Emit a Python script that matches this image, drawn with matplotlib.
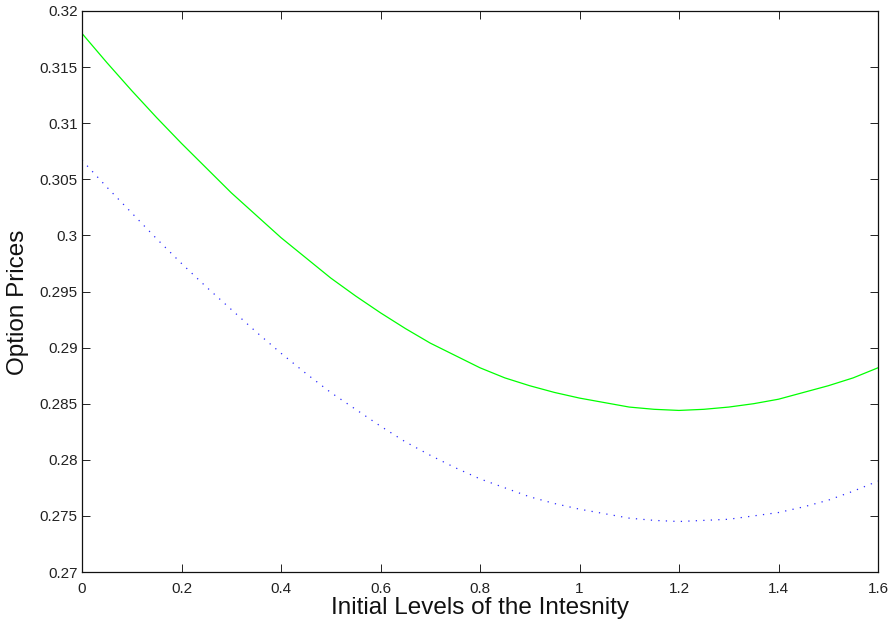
import numpy as np
import matplotlib
matplotlib.use("Agg")
import matplotlib.pyplot as plt

# values
intensity = [0.0, 0.05, 0.1, 0.15, 0.2, 0.25, 0.3, 0.35, 0.4, 0.45, 0.5, 0.55,
             0.6, 0.65, 0.7, 0.75, 0.8, 0.85, 0.9, 0.95, 1.0, 1.05, 1.1, 1.15,
             1.2, 1.25, 1.3, 1.35, 1.4, 1.45, 1.5, 1.55, 1.6]
price_solid = [0.3180, 0.3154, 0.3129, 0.3105, 0.3082, 0.3060, 0.3038, 0.3018,
               0.2998, 0.2980, 0.2962, 0.2946, 0.2931, 0.2917, 0.2904, 0.2893,
               0.2882, 0.2873, 0.2866, 0.2860, 0.2855, 0.2851, 0.2847, 0.2845,
               0.2844, 0.2845, 0.2847, 0.2850, 0.2854, 0.2860, 0.2866, 0.2873, 0.2882]
price_dotted = [0.3067, 0.3043, 0.3020, 0.2997, 0.2975, 0.2954, 0.2934, 0.2914,
                0.2895, 0.2877, 0.2860, 0.2845, 0.2830, 0.2816, 0.2804, 0.2793,
                0.2783, 0.2775, 0.2767, 0.2761, 0.2756, 0.2752, 0.2748, 0.2746,
                0.2745, 0.2746, 0.2747, 0.2750, 0.2753, 0.2758, 0.2764, 0.2772, 0.2781]

xticks = [0, 0.2, 0.4, 0.6, 0.8, 1, 1.2, 1.4, 1.6]
xticklabels = ['0', '0.2', '0.4', '0.6', '0.8', '1', '1.2', '1.4', '1.6']
yticks = [0.27, 0.275, 0.28, 0.285, 0.29, 0.295, 0.3, 0.305, 0.31, 0.315, 0.32]
yticklabels = ['0.27', '0.275', '0.28', '0.285', '0.29', '0.295',
               '0.3', '0.305', '0.31', '0.315', '0.32']

plt.rc('font', family=['Liberation Sans', 'DejaVu Sans'])

fig = plt.figure(figsize=(8.93, 6.25), dpi=100)
ax = fig.add_axes([82/893, 1-572/625, (878-82)/893, (572-11)/625])

ax.plot(intensity, price_solid, color='#00ff00', lw=0.9)
ax.plot(intensity, price_dotted, color='#2a2aff', lw=0.9, linestyle=(0, (1, 5)))

ax.set_xlim(0, 1.6)
ax.set_ylim(0.27, 0.32)
ax.set_xticks(xticks)
ax.set_xticklabels(xticklabels)
ax.set_yticks(yticks)
ax.set_yticklabels(yticklabels)

ax.tick_params(direction='in', length=5.5, width=0.7, labelsize=11,
               top=True, right=True, colors='#222222')
ax.tick_params(axis='x', pad=7)
ax.tick_params(axis='y', pad=3)
for s in ax.spines.values():
    s.set_linewidth(0.9)
    s.set_color('#111111')

ax.set_xlabel('Initial Levels of the Intesnity', fontsize=17.5, labelpad=1, color='#111111')
ax.set_ylabel('Option Prices', fontsize=17.5, color='#111111')
ax.yaxis.set_label_coords(-0.066, 0.48)

fig.savefig('out.png', dpi=100)
